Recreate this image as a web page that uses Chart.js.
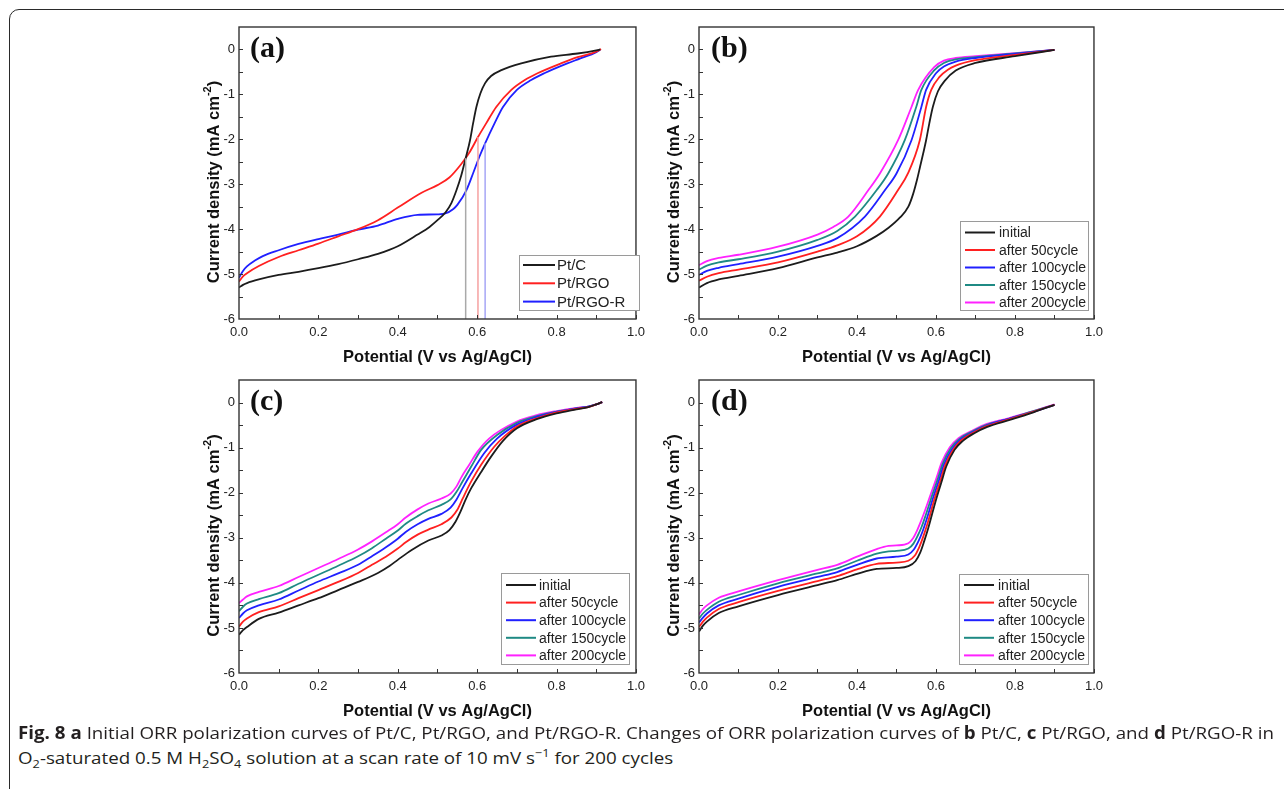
<!DOCTYPE html>
<html>
<head>
<meta charset="utf-8">
<script src="https://cdn.jsdelivr.net/npm/chart.js@4.4.1/dist/chart.umd.min.js"></script>
<style>
  html, body { margin: 0; padding: 0; background: #fff; }
  body { width: 1284px; height: 789px; position: relative; overflow: hidden; }
  #frame { position: absolute; left: 9px; top: 9px; width: 1300px; height: 800px;
           border: 1.5px solid #2a2a2a; border-radius: 10px; box-sizing: border-box; }
  canvas { position: absolute; }
  .caption { position: absolute; left: 18px; font-family: "Open Sans", sans-serif; font-size: 17px;
             line-height: 22px; color: #231f20; white-space: nowrap; transform-origin: 0 0; }
  .caption sub, .caption sup { font-size: 0.68em; line-height: 0; }
</style>
</head>
<body>
<div id="frame"></div>
<canvas id="pa" width="472" height="359" style="left:179px;top:15px"></canvas>
<canvas id="pb" width="470" height="359" style="left:639px;top:15px"></canvas>
<canvas id="pc" width="472" height="360" style="left:179px;top:368px"></canvas>
<canvas id="pd" width="470" height="360" style="left:639px;top:368px"></canvas>
<div class="caption" id="cap1" style="top:722px"><b>Fig. 8</b> <b>a</b> Initial ORR polarization curves of Pt/C, Pt/RGO, and Pt/RGO-R. Changes of ORR polarization curves of <b>b</b> Pt/C, <b>c</b> Pt/RGO, and <b>d</b> Pt/RGO-R in</div>
<div class="caption" id="cap2" style="top:747px">O<sub>2</sub>-saturated 0.5 M H<sub>2</sub>SO<sub>4</sub> solution at a scan rate of 10 mV s<sup>−1</sup> for 200 cycles</div>

<script>
// ORR polarization curves, four panels (a)-(d)

const xTicks = [0, 0.2, 0.4, 0.6, 0.8, 1.0];
const yTicks = [0, -1, -2, -3, -4, -5, -6];

// (a) initial curves
const aLabels = ['Pt/C', 'Pt/RGO', 'Pt/RGO-R'];
const aColors = ['#1c1c1c', '#ff2020', '#2020ff'];
const aPtC = [[0,-5.3],[0.01,-5.24],[0.02,-5.2],[0.05,-5.12],[0.1,-5.02],[0.15,-4.95],[0.2,-4.87],[0.25,-4.78],[0.3,-4.67],[0.35,-4.55],[0.4,-4.38],[0.45,-4.12],[0.48,-3.95],[0.5,-3.8],[0.52,-3.63],[0.535,-3.42],[0.548,-3.13],[0.56,-2.8],[0.571,-2.42],[0.582,-2.02],[0.59,-1.63],[0.598,-1.28],[0.608,-0.98],[0.62,-0.75],[0.635,-0.59],[0.661,-0.46],[0.711,-0.31],[0.786,-0.16],[0.853,-0.09],[0.9,-0.02],[0.91,0]];
const aPtRGO = [[0,-5.17],[0.01,-5.05],[0.02,-4.98],[0.05,-4.82],[0.1,-4.62],[0.15,-4.47],[0.2,-4.32],[0.25,-4.16],[0.3,-4.0],[0.35,-3.8],[0.4,-3.52],[0.46,-3.19],[0.5,-3.02],[0.53,-2.85],[0.56,-2.55],[0.58,-2.3],[0.602,-1.95],[0.623,-1.64],[0.648,-1.28],[0.686,-0.9],[0.72,-0.68],[0.752,-0.53],[0.811,-0.31],[0.853,-0.17],[0.9,-0.05],[0.912,0.01]];
const aPtRGOR = [[0,-5.08],[0.01,-4.93],[0.02,-4.83],[0.04,-4.7],[0.06,-4.6],[0.1,-4.47],[0.15,-4.33],[0.2,-4.22],[0.25,-4.12],[0.3,-4.01],[0.35,-3.92],[0.4,-3.77],[0.45,-3.68],[0.5,-3.67],[0.52,-3.65],[0.54,-3.55],[0.55,-3.46],[0.573,-3.13],[0.59,-2.75],[0.605,-2.4],[0.62,-2.09],[0.644,-1.64],[0.665,-1.28],[0.7,-0.9],[0.736,-0.68],[0.769,-0.53],[0.827,-0.31],[0.86,-0.2],[0.9,-0.06],[0.91,0]];
// half-wave potential markers in (a)
const aMarkX = [0.571, 0.602, 0.62];
const aMarkTop = [-2.42, -1.95, -2.09];
const aMarkColors = ['#a9a9a9', '#f5a0a0', '#a6a6f5'];

// (b)-(d) cycling curves
const cycleLabels = ['initial', 'after 50cycle', 'after 100cycle', 'after 150cycle', 'after 200cycle'];
const cycleColors = ['#1c1c1c', '#ff2020', '#2020ff', '#1f8a84', '#ff22ff'];

const b0 = [[0,-5.3],[0.02,-5.2],[0.05,-5.12],[0.1,-5.04],[0.2,-4.87],[0.3,-4.63],[0.35,-4.52],[0.4,-4.38],[0.45,-4.15],[0.48,-3.97],[0.509,-3.74],[0.53,-3.5],[0.542,-3.22],[0.552,-2.9],[0.56,-2.6],[0.568,-2.3],[0.575,-2.02],[0.583,-1.65],[0.592,-1.28],[0.605,-0.93],[0.622,-0.7],[0.65,-0.47],[0.7,-0.3],[0.8,-0.15],[0.9,-0.01]];
const b50 = [[0,-5.15],[0.02,-5.06],[0.05,-4.98],[0.1,-4.9],[0.2,-4.74],[0.3,-4.5],[0.35,-4.36],[0.4,-4.16],[0.458,-3.72],[0.504,-3.13],[0.529,-2.76],[0.559,-2.02],[0.575,-1.28],[0.588,-0.9],[0.609,-0.61],[0.63,-0.45],[0.65,-0.36],[0.7,-0.24],[0.8,-0.12],[0.9,-0.01]];
const b100 = [[0,-5.02],[0.02,-4.93],[0.05,-4.86],[0.1,-4.78],[0.2,-4.61],[0.3,-4.37],[0.35,-4.2],[0.42,-3.72],[0.471,-3.13],[0.5,-2.76],[0.538,-2.02],[0.563,-1.28],[0.575,-0.9],[0.6,-0.53],[0.62,-0.38],[0.65,-0.27],[0.7,-0.19],[0.8,-0.1],[0.9,-0.01]];
const b150 = [[0,-4.9],[0.02,-4.81],[0.05,-4.74],[0.1,-4.67],[0.2,-4.5],[0.3,-4.24],[0.35,-4.04],[0.395,-3.72],[0.45,-3.13],[0.479,-2.76],[0.521,-2.02],[0.55,-1.28],[0.563,-0.9],[0.596,-0.46],[0.62,-0.3],[0.65,-0.22],[0.7,-0.17],[0.8,-0.09],[0.9,-0.01]];
const b200 = [[0,-4.8],[0.02,-4.71],[0.05,-4.64],[0.1,-4.57],[0.2,-4.39],[0.3,-4.12],[0.34,-3.95],[0.378,-3.72],[0.429,-3.13],[0.458,-2.76],[0.504,-2.02],[0.538,-1.28],[0.555,-0.9],[0.596,-0.39],[0.62,-0.25],[0.65,-0.19],[0.7,-0.15],[0.8,-0.08],[0.9,-0.01]];

const c0 = [[0,-5.15],[0.01,-5.05],[0.02,-4.98],[0.05,-4.8],[0.1,-4.66],[0.15,-4.5],[0.2,-4.34],[0.25,-4.16],[0.3,-3.98],[0.35,-3.78],[0.38,-3.62],[0.4,-3.49],[0.435,-3.27],[0.477,-3.06],[0.51,-2.95],[0.53,-2.83],[0.545,-2.65],[0.558,-2.42],[0.57,-2.17],[0.585,-1.9],[0.61,-1.54],[0.635,-1.2],[0.665,-0.85],[0.7,-0.57],[0.75,-0.37],[0.8,-0.24],[0.85,-0.15],[0.88,-0.1],[0.9,-0.04],[0.915,0.01]];
const c50 = [[0,-4.97],[0.01,-4.86],[0.02,-4.79],[0.05,-4.65],[0.1,-4.52],[0.15,-4.34],[0.2,-4.16],[0.25,-3.98],[0.3,-3.78],[0.335,-3.6],[0.37,-3.42],[0.4,-3.24],[0.42,-3.1],[0.45,-2.93],[0.477,-2.82],[0.51,-2.7],[0.535,-2.55],[0.55,-2.38],[0.564,-2.12],[0.585,-1.75],[0.61,-1.38],[0.643,-0.98],[0.67,-0.74],[0.7,-0.53],[0.75,-0.35],[0.8,-0.22],[0.85,-0.14],[0.88,-0.1],[0.9,-0.04],[0.915,0.01]];
const c100 = [[0,-4.78],[0.01,-4.68],[0.02,-4.61],[0.05,-4.5],[0.1,-4.37],[0.15,-4.17],[0.2,-3.97],[0.25,-3.79],[0.3,-3.6],[0.335,-3.41],[0.37,-3.21],[0.4,-3.02],[0.42,-2.87],[0.45,-2.7],[0.477,-2.58],[0.51,-2.47],[0.533,-2.33],[0.548,-2.15],[0.562,-1.92],[0.585,-1.57],[0.618,-1.12],[0.65,-0.8],[0.7,-0.49],[0.75,-0.32],[0.8,-0.21],[0.85,-0.13],[0.88,-0.09],[0.9,-0.04],[0.915,0.01]];
const c150 = [[0,-4.63],[0.01,-4.53],[0.02,-4.46],[0.05,-4.36],[0.1,-4.23],[0.15,-4.02],[0.2,-3.82],[0.25,-3.62],[0.3,-3.41],[0.335,-3.23],[0.37,-3.02],[0.4,-2.84],[0.42,-2.69],[0.45,-2.52],[0.477,-2.39],[0.51,-2.27],[0.533,-2.15],[0.548,-1.98],[0.562,-1.77],[0.585,-1.42],[0.61,-1.05],[0.65,-0.72],[0.7,-0.45],[0.75,-0.3],[0.8,-0.2],[0.85,-0.13],[0.88,-0.09],[0.9,-0.04],[0.915,0.01]];
const c200 = [[0,-4.45],[0.01,-4.37],[0.02,-4.3],[0.05,-4.2],[0.1,-4.07],[0.15,-3.87],[0.2,-3.67],[0.25,-3.47],[0.3,-3.26],[0.335,-3.08],[0.37,-2.88],[0.4,-2.7],[0.42,-2.55],[0.45,-2.37],[0.477,-2.24],[0.51,-2.13],[0.533,-2.02],[0.548,-1.86],[0.56,-1.66],[0.58,-1.38],[0.6,-1.1],[0.63,-0.8],[0.7,-0.42],[0.75,-0.28],[0.8,-0.19],[0.85,-0.12],[0.88,-0.09],[0.9,-0.04],[0.915,0.01]];

const d0 = [[0,-5.08],[0.01,-4.95],[0.02,-4.86],[0.05,-4.67],[0.1,-4.52],[0.2,-4.27],[0.3,-4.05],[0.35,-3.94],[0.4,-3.8],[0.45,-3.69],[0.5,-3.67],[0.53,-3.63],[0.548,-3.52],[0.56,-3.33],[0.57,-3.08],[0.58,-2.8],[0.6,-2.16],[0.613,-1.79],[0.626,-1.42],[0.647,-1.05],[0.668,-0.85],[0.697,-0.68],[0.73,-0.54],[0.789,-0.38],[0.839,-0.24],[0.9,-0.05]];
const d50 = [[0,-4.98],[0.01,-4.86],[0.02,-4.77],[0.05,-4.58],[0.1,-4.43],[0.2,-4.18],[0.3,-3.96],[0.35,-3.85],[0.4,-3.7],[0.45,-3.58],[0.5,-3.55],[0.53,-3.51],[0.546,-3.4],[0.558,-3.2],[0.568,-2.97],[0.578,-2.7],[0.597,-2.12],[0.61,-1.77],[0.623,-1.4],[0.644,-1.04],[0.665,-0.83],[0.694,-0.67],[0.727,-0.53],[0.787,-0.37],[0.838,-0.23],[0.9,-0.05]];
const d100 = [[0,-4.88],[0.01,-4.77],[0.02,-4.68],[0.05,-4.5],[0.1,-4.35],[0.2,-4.09],[0.3,-3.87],[0.35,-3.76],[0.4,-3.6],[0.45,-3.46],[0.5,-3.42],[0.53,-3.37],[0.544,-3.26],[0.556,-3.07],[0.566,-2.86],[0.576,-2.6],[0.594,-2.08],[0.607,-1.74],[0.62,-1.38],[0.641,-1.03],[0.662,-0.82],[0.692,-0.66],[0.725,-0.52],[0.785,-0.36],[0.837,-0.23],[0.9,-0.05]];
const d150 = [[0,-4.79],[0.01,-4.68],[0.02,-4.6],[0.05,-4.42],[0.1,-4.27],[0.2,-4.01],[0.3,-3.79],[0.35,-3.68],[0.4,-3.51],[0.45,-3.35],[0.48,-3.3],[0.5,-3.29],[0.53,-3.24],[0.543,-3.13],[0.554,-2.95],[0.564,-2.75],[0.574,-2.5],[0.591,-2.04],[0.604,-1.71],[0.617,-1.36],[0.638,-1.01],[0.66,-0.8],[0.69,-0.65],[0.723,-0.51],[0.784,-0.36],[0.836,-0.22],[0.9,-0.05]];
const d200 = [[0,-4.7],[0.01,-4.58],[0.02,-4.5],[0.05,-4.33],[0.1,-4.19],[0.2,-3.94],[0.3,-3.71],[0.35,-3.6],[0.4,-3.42],[0.45,-3.25],[0.48,-3.18],[0.5,-3.17],[0.53,-3.12],[0.542,-3.01],[0.552,-2.84],[0.562,-2.63],[0.572,-2.4],[0.588,-2.0],[0.601,-1.68],[0.614,-1.34],[0.635,-0.99],[0.657,-0.79],[0.688,-0.64],[0.721,-0.5],[0.783,-0.35],[0.835,-0.22],[0.9,-0.04]];

const FONT = 'Arial, "Liberation Sans", sans-serif';
const pts = arr => arr.map(([x, y]) => ({ x, y }));

function curve(label, color, data) {
  return { label, data: pts(data), borderColor: color, borderWidth: 1.8,
           pointRadius: 0, showLine: true, cubicInterpolationMode: 'monotone' };
}

// box around plot + inward ticks + y title with superscript
const framePlugin = {
  id: 'frame',
  afterDatasetsDraw(chart) {
    const { ctx, chartArea: a, scales } = chart;
    ctx.save();
    ctx.strokeStyle = '#333';
    ctx.lineWidth = 1.4;
    ctx.strokeRect(a.left, a.top, a.right - a.left, a.bottom - a.top);
    ctx.lineWidth = 1;
    ctx.beginPath();
    for (let v = 0.1; v < 1; v += 0.1) {
      const px = Math.round(scales.x.getPixelForValue(v)) + 0.5;
      ctx.moveTo(px, a.bottom); ctx.lineTo(px, a.bottom - 4);
    }
    for (let v = -5.5; v < 0.5; v += 0.5) {
      const py = Math.round(scales.y.getPixelForValue(v)) + 0.5;
      ctx.moveTo(a.left, py); ctx.lineTo(a.left + 4, py);
    }
    ctx.stroke();

    // y axis title
    ctx.translate(a.left - 25, (a.top + a.bottom) / 2 + 9);
    ctx.rotate(-Math.PI / 2);
    ctx.fillStyle = '#111';
    ctx.textBaseline = 'middle';
    const main = 'Current density (mA cm', sup = '-2', end = ')';
    const fMain = 'bold 16.5px ' + FONT, fSup = 'bold 11px ' + FONT;
    ctx.font = fMain;
    const w1 = ctx.measureText(main).width, w3 = ctx.measureText(end).width;
    ctx.font = fSup;
    const w2 = ctx.measureText(sup).width;
    let x = -(w1 + w2 + w3) / 2;
    ctx.font = fMain; ctx.fillText(main, x, 0); x += w1;
    ctx.font = fSup; ctx.fillText(sup, x, -6); x += w2;
    ctx.font = fMain; ctx.fillText(end, x, 0);
    ctx.restore();
  }
};

// framed legend inside the plot area
const boxLegend = {
  id: 'boxLegend',
  afterDraw(chart, args, o) {
    const { ctx, chartArea: a } = chart;
    const items = chart.data.datasets.filter(d => d.label);
    const bx = a.left + o.x, by = a.top + o.y;
    ctx.save();
    ctx.fillStyle = '#fff';
    ctx.fillRect(bx, by, o.w, o.h);
    ctx.strokeStyle = '#9a9a9a';
    ctx.lineWidth = 1;
    ctx.strokeRect(bx + 0.5, by + 0.5, o.w, o.h);
    ctx.font = o.size + 'px ' + FONT;
    ctx.textBaseline = 'middle';
    items.forEach((d, i) => {
      const yy = by + o.first + i * o.step;
      ctx.strokeStyle = d.borderColor;
      ctx.lineWidth = 2;
      ctx.beginPath(); ctx.moveTo(bx + o.l0, yy); ctx.lineTo(bx + o.l1, yy); ctx.stroke();
      ctx.fillStyle = '#222';
      ctx.fillText(d.label, bx + o.tx, yy + 1);
    });
    ctx.restore();
  }
};

// panel letter
const panelLabel = {
  id: 'panelLabel',
  afterDraw(chart, args, o) {
    const { ctx, chartArea: a } = chart;
    ctx.save();
    ctx.font = 'bold 30px "Liberation Serif", "Times New Roman", serif';
    ctx.fillStyle = '#111';
    ctx.textBaseline = 'alphabetic';
    ctx.fillText(o.text, a.left + o.dx, a.top + 30);
    ctx.restore();
  }
};

function buildChart(id, datasets, legend, label, dx) {
  return new Chart(document.getElementById(id), {
    type: 'scatter',
    data: { datasets },
    options: {
      responsive: false,
      animation: false,
      layout: { padding: { top: 12, right: 10, left: 0, bottom: 0 } },
      plugins: {
        legend: { display: false },
        tooltip: { enabled: false },
        boxLegend: legend,
        panelLabel: { text: label, dx }
      },
      scales: {
        x: {
          type: 'linear', min: 0, max: 1,
          grid: { display: false, drawTicks: false }, border: { display: false },
          afterBuildTicks: s => { s.ticks = xTicks.map(v => ({ value: v })); },
          afterFit: s => { s.height = 55; },
          ticks: { font: { family: FONT, size: 13 }, color: '#222', padding: 6,
                   maxRotation: 0, autoSkip: false, callback: v => v.toFixed(1) },
          title: { display: true, text: 'Potential (V vs Ag/AgCl)', color: '#111',
                   font: { family: FONT, size: 16.5, weight: 'bold' }, padding: { top: 0, bottom: 7 } }
        },
        y: {
          type: 'linear', min: -6, max: 0.5,
          grid: { display: false, drawTicks: false }, border: { display: false },
          afterBuildTicks: s => { s.ticks = yTicks.map(v => ({ value: v })); },
          afterFit: s => { s.width = 60; },
          ticks: { font: { family: FONT, size: 13 }, color: '#222', padding: 4,
                   autoSkip: false, callback: v => String(v) },
          title: { display: false }
        }
      }
    },
    plugins: [framePlugin, boxLegend, panelLabel]
  });
}

// (a)
const aSets = [
  curve(aLabels[0], aColors[0], aPtC),
  curve(aLabels[1], aColors[1], aPtRGO),
  curve(aLabels[2], aColors[2], aPtRGOR)
];
aMarkX.forEach((x, i) => {
  aSets.unshift({ data: [{ x, y: -6 }, { x, y: aMarkTop[i] }], borderColor: aMarkColors[i],
                  borderWidth: 1.5, pointRadius: 0, showLine: true });
});
buildChart('pa', aSets,
  { x: 280, y: 228, w: 120, h: 55, first: 10, step: 18.3, l0: 4, l1: 36, tx: 38, size: 15 }, '(a)', 11);

// (b)-(d)
const cycleSets = curves => curves.map((c, i) => curve(cycleLabels[i], cycleColors[i], c));
buildChart('pb', cycleSets([b0, b50, b100, b150, b200]),
  { x: 261, y: 194, w: 128, h: 89, first: 11.5, step: 17.5, l0: 5, l1: 35, tx: 39, size: 14 }, '(b)', 12);
buildChart('pc', cycleSets([c0, c50, c100, c150, c200]),
  { x: 262, y: 193, w: 128, h: 91, first: 12, step: 17.6, l0: 5, l1: 35, tx: 38, size: 14 }, '(c)', 11);
buildChart('pd', cycleSets([d0, d50, d100, d150, d200]),
  { x: 260, y: 194, w: 129, h: 90, first: 11, step: 17.6, l0: 5, l1: 35, tx: 39, size: 14 }, '(d)', 12);

// fit caption to the reference line width
const cap1 = document.getElementById('cap1'), cap2 = document.getElementById('cap2');
const k = 1256 / cap1.getBoundingClientRect().width;
cap1.style.transform = cap2.style.transform = 'scaleX(' + k + ')';
</script>
</body>
</html>
